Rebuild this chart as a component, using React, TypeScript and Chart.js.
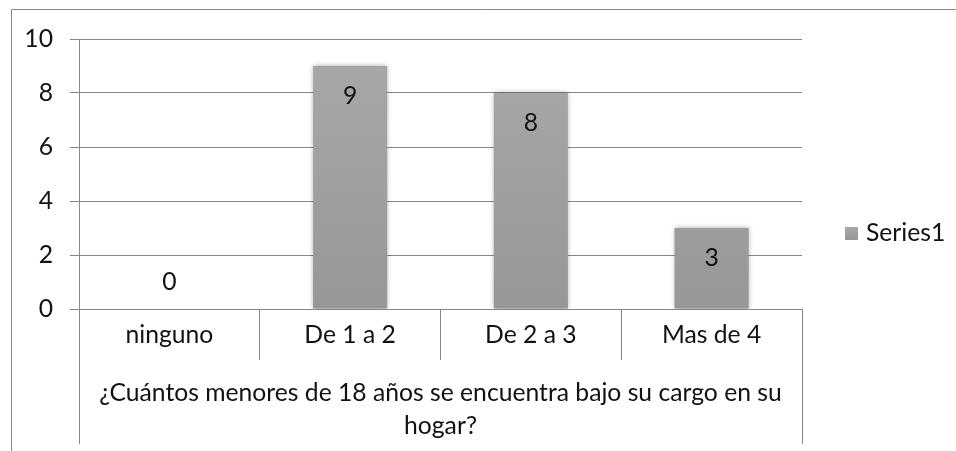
import React, { useEffect, useRef } from "react";
import { Chart, registerables } from "chart.js";

Chart.register(...registerables);

const categories = ["ninguno", "De 1 a 2", "De 2 a 3", "Mas de 4"];
const seriesValues = [0, 9, 8, 3];
const seriesName = "Series1";
const yMin = 0;
const yMax = 10;
const yStep = 2;
const axisTitle = ["¿Cuántos menores de 18 años se encuentra bajo su cargo en su", "hogar?"];

const FONT = "Lato, 'Noto Sans', sans-serif";
const TEXT = "#111111";
const LINE = "#878787";
const FS = 24.7;

const shadowPlugin = {
  id: "barShadow",
  beforeDatasetsDraw(chart: any) {
    const ctx = chart.ctx;
    ctx.save();
    ctx.shadowColor = "rgba(0,0,0,0.35)";
    ctx.shadowBlur = 5;
    ctx.shadowOffsetX = 0;
    ctx.shadowOffsetY = 0;
  },
  afterDatasetsDraw(chart: any) {
    chart.ctx.restore();
  },
};

const decorPlugin = {
  id: "decor",
  afterDraw(chart: any) {
    const ctx = chart.ctx;
    const area = chart.chartArea;
    ctx.save();
    // outer frame
    ctx.strokeStyle = LINE;
    ctx.lineWidth = 1;
    ctx.beginPath();
    ctx.moveTo(11.5, 451);
    ctx.lineTo(11.5, 9.5);
    ctx.lineTo(956, 9.5);
    ctx.stroke();
    // extended outer dividers into the axis-title area
    const lx = Math.round(area.left) + 0.5;
    const rx = Math.round(area.right) + 0.5;
    const y0 = area.bottom + 51;
    ctx.beginPath();
    ctx.moveTo(lx, y0);
    ctx.lineTo(lx, 444);
    ctx.moveTo(rx, y0);
    ctx.lineTo(rx, 444);
    ctx.stroke();

    // data labels
    const meta = chart.getDatasetMeta(0);
    ctx.font = `${FS}px ${FONT}`;
    ctx.fillStyle = TEXT;
    ctx.textAlign = "center";
    ctx.textBaseline = "middle";
    meta.data.forEach((bar: any, i: number) => {
      const v = seriesValues[i];
      const y = v > 0 ? bar.y + 30 : bar.y - 26.5;
      ctx.fillText(String(v), bar.x, y);
    });

    // legend
    const lgY = 233;
    const g = ctx.createLinearGradient(0, lgY - 6, 0, lgY + 7);
    g.addColorStop(0, "#a9a9a9");
    g.addColorStop(1, "#969696");
    ctx.fillStyle = g;
    ctx.fillRect(845, lgY - 6, 13, 13);
    ctx.fillStyle = TEXT;
    ctx.textAlign = "left";
    ctx.fillText(seriesName, 866, lgY);
    ctx.restore();
  },
};

export default function App() {
  const ref = useRef<HTMLCanvasElement>(null);
  useEffect(() => {
    const canvas = ref.current!;
    const chart = new Chart(canvas, {
      type: "bar",
      data: {
        labels: categories,
        datasets: [
          {
            label: seriesName,
            data: seriesValues,
            backgroundColor: (c: any) => {
              const ch = c.chart;
              const area = ch.chartArea;
              if (!area) return "#9e9e9e";
              const g = ch.ctx.createLinearGradient(0, area.top, 0, area.bottom);
              g.addColorStop(0, "#a9a9a9");
              g.addColorStop(1, "#979797");
              return g;
            },
            borderWidth: 0,
            barPercentage: 0.41,
            categoryPercentage: 1,
          },
        ],
      },
      options: {
        responsive: false,
        animation: false,
        devicePixelRatio: 1,
        layout: { padding: { left: 0, top: 39, right: 154, bottom: 0 } },
        plugins: {
          legend: { display: false },
          tooltip: { enabled: false },
        },
        scales: {
          x: {
            grid: {
              offset: true,
              drawOnChartArea: false,
              drawTicks: true,
              tickLength: 51,
              color: LINE,
            },
            border: { display: true, color: LINE },
            ticks: {
              font: { family: FONT, size: FS, lineHeight: "28px" },
              color: TEXT,
              padding: -39,
              maxRotation: 0,
              autoSkip: false,
            },
            title: {
              display: true,
              text: axisTitle,
              font: { family: FONT, size: FS, lineHeight: "33px" },
              color: TEXT,
              padding: { top: 0, bottom: 8 },
            },
            afterFit: (s: any) => {
              s.height = 451 - 309;
            },
          },
          y: {
            min: yMin,
            max: yMax,
            ticks: {
              stepSize: yStep,
              font: { family: FONT, size: FS },
              color: TEXT,
              padding: 17,
            },
            grid: { color: LINE, tickLength: 9, drawTicks: true },
            border: { display: true, color: LINE },
            afterFit: (s: any) => {
              s.width = 79;
            },
          },
        },
      },
      plugins: [shadowPlugin, decorPlugin],
    });
    return () => chart.destroy();
  }, []);
  return (
    <div style={{ position: "fixed", left: 0, top: 0, width: 956, height: 451, background: "#fff" }}>
      <canvas ref={ref} width={956} height={451} style={{ display: "block" }} />
    </div>
  );
}
